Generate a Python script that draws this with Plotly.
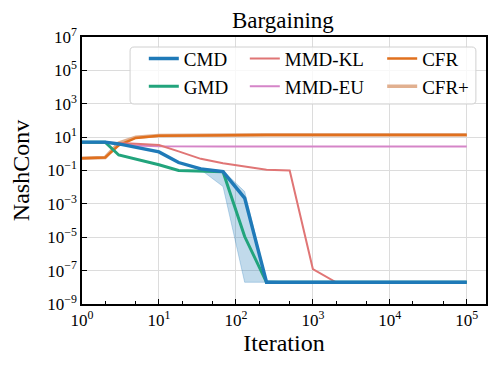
import plotly.graph_objects as go

# iterations
iters = [1, 2, 3, 5, 10, 18, 35, 68, 130, 250, 500, 1000, 2000, 5000, 10000, 20000, 50000, 100000]

cmd = [5, 5, 3.9, 2.5, 1.3, 0.3, 0.125, 0.085, 0.0022, 2e-8, 2e-8, 2e-8, 2e-8, 2e-8, 2e-8, 2e-8, 2e-8, 2e-8]
cmd_lo = [5, 5, 3.9, 2.5, 1.3, 0.3, 0.11, 0.011, 2e-8, 2e-8, 2e-8, 2e-8, 2e-8, 2e-8, 2e-8, 2e-8, 2e-8, 2e-8]
cmd_hi = [5, 5, 3.9, 2.5, 1.3, 0.3, 0.14, 0.095, 0.0055, 2.5e-8, 2e-8, 2e-8, 2e-8, 2e-8, 2e-8, 2e-8, 2e-8, 2e-8]
gmd = [5, 5, 0.85, 0.48, 0.22, 0.1, 0.095, 0.085, 1.1e-5, 2e-8, 2e-8, 2e-8, 2e-8, 2e-8, 2e-8, 2e-8, 2e-8, 2e-8]
mmd_kl = [5, 4.9, 4.5, 4, 3.4, 1.4, 0.5, 0.27, 0.17, 0.11, 0.1, 1.25e-7, 2e-8, 2e-8, 2e-8, 2e-8, 2e-8, 2e-8]
mmd_eu = [5, 4.8, 4, 3.2, 2.8, 2.7, 2.7, 2.7, 2.7, 2.7, 2.7, 2.7, 2.7, 2.7, 2.7, 2.7, 2.7, 2.7]
cfr = [0.55, 0.6, 3.2, 9, 12, 12.5, 13, 13.5, 13.5, 13.5, 13.5, 13.5, 13.5, 13.5, 13.5, 13.5, 13.5, 13.5]
cfr_plus = [0.55, 0.6, 4.5, 10, 12.5, 13, 13.5, 14, 14, 14, 14, 14, 14, 14, 14, 14, 14, 14]

y_ticks = [1e7, 1e5, 1e3, 1e1, 1e-1, 1e-3, 1e-5, 1e-7, 1e-9]
y_labels = ["10<sup>7</sup>", "10<sup>5</sup>", "10<sup>3</sup>", "10<sup>1</sup>", "10<sup>−1</sup>",
            "10<sup>−3</sup>", "10<sup>−5</sup>", "10<sup>−7</sup>", "10<sup>−9</sup>"]
x_ticks = [1, 10, 100, 1000, 10000, 100000]
x_labels = ["10<sup>0</sup>", "10<sup>1</sup>", "10<sup>2</sup>", "10<sup>3</sup>", "10<sup>4</sup>", "10<sup>5</sup>"]

BLUE = "#1f7ab8"
GREEN = "#22a47c"
SALMON = "#e07575"
PINK = "#d585c8"
ORANGE = "#e0701e"
SAND = "#d99c74"

fig = go.Figure()

# shaded band for CMD
fig.add_trace(go.Scatter(x=iters, y=cmd_hi, mode="lines", line=dict(width=0.8, color="rgba(31,122,184,0.35)"),
                         showlegend=False, hoverinfo="skip"))
fig.add_trace(go.Scatter(x=iters, y=cmd_lo, mode="lines", line=dict(width=0.8, color="rgba(31,122,184,0.35)"),
                         fill="tonexty", fillcolor="rgba(31,122,184,0.28)", showlegend=False, hoverinfo="skip"))

fig.add_trace(go.Scatter(x=iters, y=cfr_plus, name="CFR+", mode="lines", line=dict(color=SAND, width=3.5),
                         opacity=0.8, legend="legend3", legendrank=2))
fig.add_trace(go.Scatter(x=iters, y=cfr, name="CFR", mode="lines", line=dict(color=ORANGE, width=2.5),
                         legend="legend3", legendrank=1))
fig.add_trace(go.Scatter(x=iters, y=mmd_eu, name="MMD-EU", mode="lines", line=dict(color=PINK, width=2),
                         legend="legend2", legendrank=2))
fig.add_trace(go.Scatter(x=iters, y=mmd_kl, name="MMD-KL", mode="lines", line=dict(color=SALMON, width=2),
                         legend="legend2", legendrank=1))
fig.add_trace(go.Scatter(x=iters, y=gmd, name="GMD", mode="lines", line=dict(color=GREEN, width=3),
                         legend="legend", legendrank=2))
fig.add_trace(go.Scatter(x=iters, y=cmd, name="CMD", mode="lines", line=dict(color=BLUE, width=3.4),
                         legend="legend", legendrank=1))

font = "Liberation Serif"
leg = dict(orientation="v", y=0.99, xanchor="left", yanchor="top", traceorder="normal",
           bgcolor="rgba(0,0,0,0)", borderwidth=0, font=dict(family=font, size=19),
           tracegroupgap=0, itemwidth=30)

# rounded legend frame
x0, x1, y0, y1, rx, ry = 0.119, 0.975, 0.749, 0.9625, 0.01, 0.015
frame = (f"M {x0+rx},{y0} L {x1-rx},{y0} Q {x1},{y0} {x1},{y0+ry} L {x1},{y1-ry} "
         f"Q {x1},{y1} {x1-rx},{y1} L {x0+rx},{y1} Q {x0},{y1} {x0},{y1-ry} "
         f"L {x0},{y0+ry} Q {x0},{y0} {x0+rx},{y0} Z")

fig.update_layout(
    width=490, height=366,
    margin=dict(l=74, r=12, t=29, b=70),
    paper_bgcolor="white", plot_bgcolor="white",
    font=dict(family=font, size=17, color="black"),
    title=dict(text="Bargaining", x=0.561, xanchor="center", y=0.967, yanchor="middle",
               font=dict(family=font, size=23, color="black")),
    legend=dict(leg, x=0.153),
    legend2=dict(leg, x=0.403),
    legend3=dict(leg, x=0.743),
    shapes=[dict(type="path", path=frame, xref="paper", yref="paper", layer="above",
                 fillcolor="rgba(255,255,255,0.8)", line=dict(color="#d0d0d0", width=1))],
    showlegend=True,
)
fig.update_xaxes(
    type="log", range=[0, 5.25], tickvals=x_ticks, ticktext=x_labels, automargin=False,
    ticks="inside", ticklen=5, tickcolor="black", showline=True, linecolor="black", linewidth=1.5,
    mirror=True, showgrid=True, gridcolor="#dcdcdc", gridwidth=1.2, zeroline=False,
    minor=dict(ticks="inside", ticklen=3, tickcolor="black", showgrid=False),
    title=dict(text="Iteration", font=dict(family=font, size=24), standoff=2),
)
fig.update_yaxes(
    type="log", range=[-9, 7], tickvals=y_ticks, ticktext=y_labels, automargin=False,
    ticks="inside", ticklen=5, tickcolor="black", showline=True, linecolor="black", linewidth=1.5,
    mirror=True, showgrid=True, gridcolor="#dcdcdc", gridwidth=1.2, zeroline=False,
    title=dict(text="NashConv", font=dict(family=font, size=24), standoff=12),
)

fig.write_html("out.html")
